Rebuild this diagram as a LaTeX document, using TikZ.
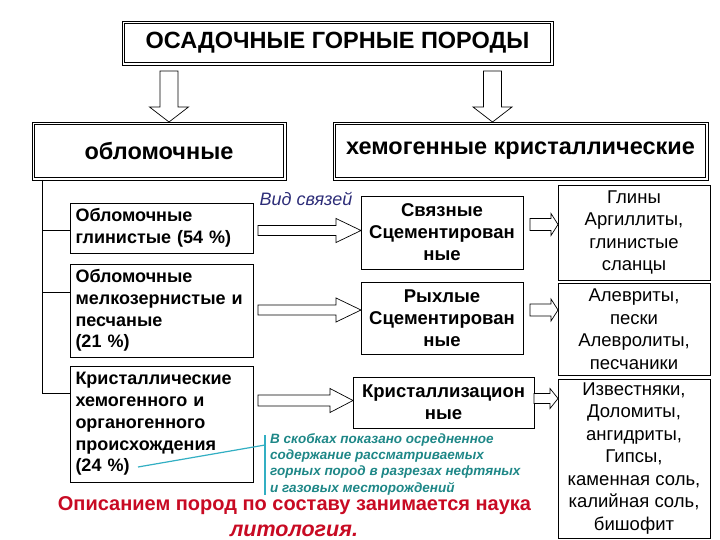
\documentclass[tikz,border=0pt]{standalone}
\usepackage{fontspec}
\setmainfont{Liberation Sans}
\usetikzlibrary{calc}
\definecolor{tealtxt}{RGB}{30,135,135}
\definecolor{tealline}{RGB}{50,175,195}
\definecolor{redtxt}{RGB}{200,10,35}
\definecolor{navytxt}{RGB}{45,45,120}
\newcommand\hblk[5]{\draw[blk] let \p1=#1, \p2=#2 in (\x1,\y2+#3) -- (\x2-#5,\y2+#3) -- (\x2-#5,\y2+#4) -- (\x2,\y2) -- (\x2-#5,\y2-#4) -- (\x2-#5,\y2-#3) -- (\x1,\y2-#3) -- cycle;}
\newcommand\vblk[5]{\draw[blk] let \p1=#1, \p2=#2 in (\x2+#3,\y1) -- (\x2+#3,\y2+#5) -- (\x2+#4,\y2+#5) -- (\x2,\y2) -- (\x2-#4,\y2+#5) -- (\x2-#3,\y2+#5) -- (\x2-#3,\y1) -- cycle;}
\newcommand\innerframe[1]{\draw[line width=0.6pt] ($(#1.north west)+(2.5,2.5)$) rectangle ($(#1.south east)+(-2.5,-2.5)$);}
\tikzset{
  box/.style={draw, line width=0.8pt, fill=white, inner sep=0pt, outer sep=0pt},
  blk/.style={draw, line width=0.7pt, fill=white},
  lbtxt/.style={font=\fontsize{18}{21.8}\selectfont\bfseries, align=left, text width=172pt},
  mbtxt/.style={font=\fontsize{18.5}{22}\selectfont\bfseries, align=center},
  rbtxt/.style={font=\fontsize{18.5}{22.5}\selectfont, align=center},
  bigtxt/.style={font=\fontsize{23.5}{26}\selectfont\bfseries},
  trunk/.style={line width=0.8pt}
}
\begin{document}
\begin{tikzpicture}[x=1pt,y=-1pt]
\useasboundingbox (0,0) rectangle (720,540);
% top
\node[box, minimum width=431pt, minimum height=44pt, bigtxt] (title) at (337.5,43) {ОСАДОЧНЫЕ ГОРНЫЕ ПОРОДЫ};
\innerframe{title}
\node[box, minimum width=254pt, minimum height=58pt, bigtxt] (obl) at (159,151) {обломочные};
\innerframe{obl}
\node[box, minimum width=375pt, minimum height=58pt, bigtxt] (hem) at (520.5,151) {хемогенные кристаллические};
\innerframe{hem}
\vblk{($(title.south)+(0,6)$)}{($(obl.north)+(10,0)$)}{9pt}{19.5pt}{15pt}
\vblk{($(title.south)+(0,6)$)}{($(hem.north)+(-28,0)$)}{9pt}{19.5pt}{15pt}
% left boxes
\node[box, minimum width=183pt, minimum height=50pt] (b1) at (161.5,228) {};
\node[lbtxt] at (b1) {Обломочные\\глинистые (54 \%)};
\node[box, minimum width=183pt, minimum height=93pt] (b2) at (161.5,310.5) {};
\node[lbtxt] at (b2) {Обломочные\\мелкозернистые и\\песчаные\\(21 \%)};
\node[box, minimum width=183pt, minimum height=116pt] (b3) at (161.5,424) {};
\node[lbtxt] at (b3) {Кристаллические\\хемогенного и\\органогенного\\происхождения\\(24 \%)};
% trunk
\coordinate (t0) at ($(obl.south west)+(10,0)$);
\coordinate (t3) at ($(b3.north west)+(0,27)$);
\draw[trunk] (t0) |- (t3);
\draw[trunk] ($(b1.north west)+(0,27)$) -- ($(b1.north west)+(-28,27)$);
\draw[trunk] ($(b2.north west)+(0,28)$) -- ($(b2.north west)+(-28,28)$);
% middle boxes
\node[box, minimum width=162pt, minimum height=73pt, mbtxt] (sv) at (442,232.5) {Связные\\Сцементирован\\ные};
\node[box, minimum width=162pt, minimum height=72pt, mbtxt] (ry) at (442,318) {Рыхлые\\Сцементирован\\ные};
\node[box, minimum width=181pt, minimum height=51pt, mbtxt] (kr) at (443.5,402.5) {Кристаллизацион\\ные};
\node[font=\fontsize{18}{20}\selectfont\itshape, text=navytxt] (vid) at (306,199) {Вид связей};
\hblk{($(b1.east)+(5,0)$)}{($(sv.west)+(0,-2)$)}{5pt}{12pt}{25pt}
\hblk{($(b2.east)+(5,0)$)}{($(ry.west)+(0,-8)$)}{5pt}{12pt}{25pt}
\hblk{($(b3.east)+(5,0)$)}{($(kr.west)+(0,-2)$)}{5.5pt}{12pt}{23pt}
% right boxes
\node[box, minimum width=152pt, minimum height=95pt, rbtxt] (g1) at (634,232.5) {Глины\\Аргиллиты,\\глинистые\\сланцы};
\node[box, minimum width=152pt, minimum height=92pt, rbtxt] (g2) at (634,329) {Алевриты,\\пески\\Алевролиты,\\песчаники};
\node[box, minimum width=152pt, minimum height=159pt, rbtxt] (g3) at (634,458.5) {Известняки,\\Доломиты,\\ангидриты,\\Гипсы,\\каменная соль,\\калийная соль,\\бишофит};
\hblk{($(sv.east)+(7,0)$)}{($(g1.west)+(0,-8)$)}{6pt}{11pt}{7pt}
\hblk{($(ry.east)+(7,0)$)}{($(g2.west)+(0,-19)$)}{6pt}{11pt}{7pt}
\hblk{(kr.east)}{($(g3.west)+(0,-60)$)}{5pt}{10pt}{8pt}
% note
\coordinate (n0) at ($(b3.south west)+(68,-15)$);
\coordinate (n1) at (265,445);
\coordinate (n2) at (265,435);
\coordinate (n3) at (265,495);
\draw[tealline, line width=1.2pt] (n0) -- (n1);
\draw[tealline, line width=1.2pt] (n2) -- (n3);
\node[anchor=north west, text=tealtxt, font=\fontsize{13.5}{16.4}\selectfont\bfseries\itshape, align=left, inner sep=0pt] (note) at (270,433) {В скобках показано осредненное\\содержание рассматриваемых\\горных пород в разрезах нефтяных\\и газовых месторождений};
% bottom
\node[text=redtxt, font=\fontsize{20}{22}\selectfont\bfseries] (r1) at (294.5,506) {Описанием пород по составу занимается наука};
\node[text=redtxt, font=\fontsize{21.5}{22}\selectfont\bfseries\itshape] (r2) at (294,531) {литология.};
\end{tikzpicture}
\end{document}
